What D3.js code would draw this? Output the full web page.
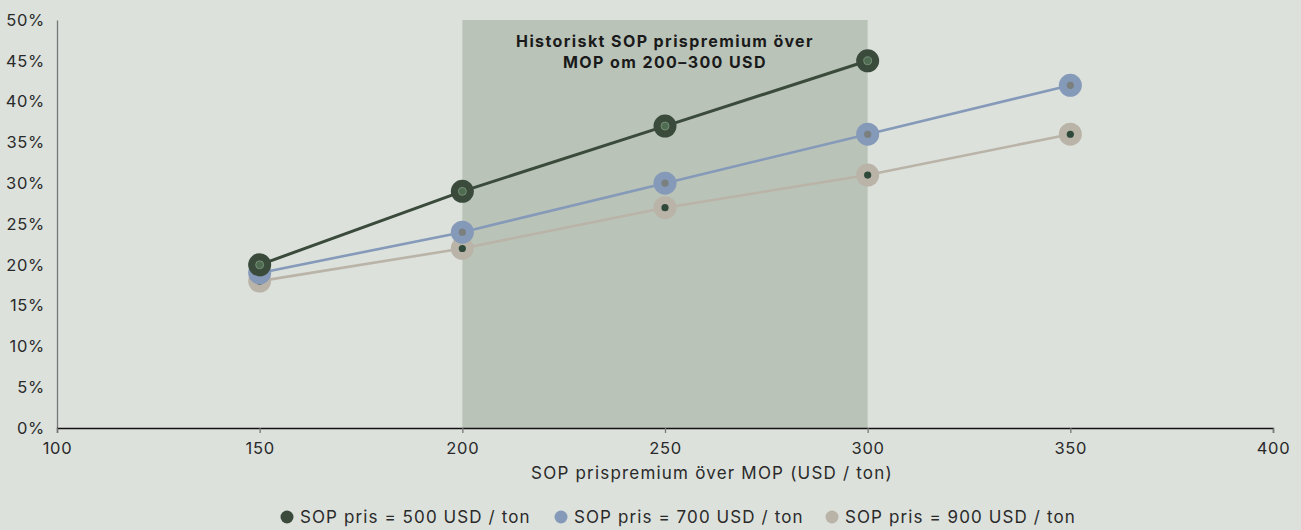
<!DOCTYPE html>
<html>
<head>
<meta charset="utf-8">
<script src="https://cdn.jsdelivr.net/npm/d3@7"></script>
<style>
  html, body { margin: 0; padding: 0; background: #dce1dc; }
  svg { display: block; }
  text { font-family: Inter, "Noto Sans", sans-serif; }
</style>
</head>
<body>
<svg id="chart" width="1301" height="530"></svg>
<script>
// Price premium of SOP over MOP (USD / ton) on the x axis
const premiums = [150, 200, 250, 300, 350];

// Premium share (%) for each SOP price level
const sop500 = [20, 29, 37, 45];
const sop700 = [19, 24, 30, 36, 42];
const sop900 = [18, 22, 27, 31, 36];

const seriesNames = ["SOP pris = 500 USD / ton", "SOP pris = 700 USD / ton", "SOP pris = 900 USD / ton"];

const xTicks = [100, 150, 200, 250, 300, 350, 400];
const yTicks = [0, 5, 10, 15, 20, 25, 30, 35, 40, 45, 50];

// Historical premium band
const bandRange = [200, 300];
const bandLabel = ["Historiskt SOP prispremium över", "MOP om 200–300 USD"];

const xTitle = "SOP prispremium över MOP (USD / ton)";

const series = [
  { name: seriesNames[0], values: sop500, outer: "#3a4a3b", inner: "#4f6b51", innerStroke: "#7d9a7f", innerR: 4 },
  { name: seriesNames[1], values: sop700, outer: "#8599b9", inner: "#7b807e", innerStroke: "none", innerR: 3.6 },
  { name: seriesNames[2], values: sop900, outer: "#bab4a8", inner: "#2f4a3a", innerStroke: "none", innerR: 3.6 }
];

const svg = d3.select("#chart");
const margin = { left: 57, right: 28, top: 20, bottom: 102 };
const W = 1301, H = 530;

const x = d3.scaleLinear().domain([100, 400]).range([margin.left, W - margin.right]);
const y = d3.scaleLinear().domain([0, 50]).range([H - margin.bottom, margin.top]);

// Shaded historical band
svg.append("rect")
  .attr("x", x(bandRange[0]))
  .attr("y", y(50))
  .attr("width", x(bandRange[1]) - x(bandRange[0]))
  .attr("height", y(0) - y(50))
  .attr("fill", "#b9c3b8");

const bandMid = (x(bandRange[0]) + x(bandRange[1])) / 2;
svg.append("text")
  .attr("x", bandMid)
  .attr("y", 47)
  .attr("text-anchor", "middle")
  .attr("font-size", 16)
  .attr("font-weight", 700)
  .attr("letter-spacing", 1.4)
  .attr("fill", "#1a1a1a")
  .selectAll("tspan")
  .data(bandLabel)
  .join("tspan")
  .attr("x", bandMid)
  .attr("dy", (d, i) => i === 0 ? 0 : 21)
  .text(d => d);

// Y axis
const yAxis = svg.append("g")
  .attr("transform", `translate(${margin.left},0)`)
  .call(d3.axisLeft(y).tickValues(yTicks).tickFormat(d => d + "%").tickSize(0).tickPadding(12));
yAxis.select(".domain").attr("stroke", "#777").attr("stroke-width", 1.3);
yAxis.selectAll("text")
  .attr("font-size", 16.5).attr("letter-spacing", 0.7)
  .attr("fill", "#2a2a2a").attr("font-family", "Inter, sans-serif");

// X axis
const xAxis = svg.append("g")
  .attr("transform", `translate(0,${y(0)})`)
  .call(d3.axisBottom(x).tickValues(xTicks).tickSize(5).tickSizeOuter(5).tickPadding(9));
xAxis.select(".domain").attr("stroke", "#111").attr("stroke-width", 1.3);
xAxis.selectAll(".tick line").attr("stroke", "#777").attr("stroke-width", 1.3);
xAxis.selectAll("text")
  .attr("font-size", 16.5).attr("letter-spacing", 0.7)
  .attr("fill", "#2a2a2a").attr("font-family", "Inter, sans-serif");

svg.append("text")
  .attr("x", 712)
  .attr("y", 479)
  .attr("text-anchor", "middle")
  .attr("font-size", 17)
  .attr("letter-spacing", 1.2)
  .attr("fill", "#2a2a2a")
  .text(xTitle);

// Lines and markers, drawn from back to front
const line = d3.line().x((d, i) => x(premiums[i])).y(d => y(d));
const order = [2, 1, 0];
order.forEach(si => {
  const s = series[si];
  const g = svg.append("g");
  g.append("path")
    .datum(s.values)
    .attr("d", line)
    .attr("fill", "none")
    .attr("stroke", s.outer)
    .attr("stroke-width", si === 0 ? 3 : 2.6);
  g.selectAll("circle.outer")
    .data(s.values)
    .join("circle")
    .attr("class", "outer")
    .attr("cx", (d, i) => x(premiums[i]))
    .attr("cy", d => y(d))
    .attr("r", 11.5)
    .attr("fill", s.outer);
  g.selectAll("circle.inner")
    .data(s.values)
    .join("circle")
    .attr("class", "inner")
    .attr("cx", (d, i) => x(premiums[i]))
    .attr("cy", d => y(d))
    .attr("r", s.innerR)
    .attr("fill", s.inner)
    .attr("stroke", s.innerStroke)
    .attr("stroke-width", 0.8);
});

// Legend
const legend = svg.append("g").attr("transform", "translate(0,517)");
const legendTextX = [300, 574, 845];
series.forEach((s, i) => {
  legend.append("circle")
    .attr("cx", legendTextX[i] - 13)
    .attr("cy", 0)
    .attr("r", 6.5)
    .attr("fill", s.outer);
  legend.append("text")
    .attr("x", legendTextX[i])
    .attr("y", 0)
    .attr("dy", "0.35em")
    .attr("font-size", 17)
    .attr("letter-spacing", 1.1)
    .attr("fill", "#2a2a2a")
    .text(s.name);
});
</script>
</body>
</html>
